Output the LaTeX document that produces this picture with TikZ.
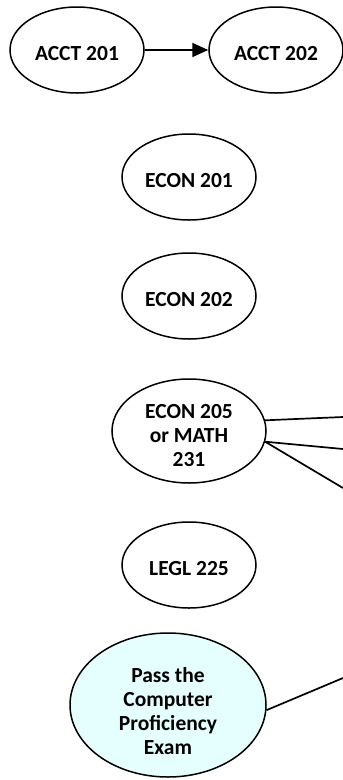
\documentclass[tikz,border=0pt]{standalone}
\usepackage{fontspec}
\setmainfont{Carlito}
\usetikzlibrary{shapes.geometric,arrows.meta}
\definecolor{examfill}{RGB}{229,255,255}

\begin{document}
\begin{tikzpicture}[x=1pt,y=-1pt,
    course/.style={ellipse,draw,line width=1.5pt,inner sep=0pt,align=center,
        font=\fontsize{21.5}{24}\selectfont\bfseries,
        minimum width=134pt,minimum height=86pt},
    oneline/.style={text height=20pt,text depth=0pt},
    link/.style={line width=1.7pt}]
    \useasboundingbox (0,0) rectangle (343,780);
        \node[course,oneline] (acct201) at (77,50) {ACCT 201};
        \node[course,oneline] (acct202) at (276,50) {ACCT 202};
        \node[course,oneline] (econ201) at (189,177) {ECON 201};
        \node[course,oneline] (econ202) at (189,296) {ECON 202};
        \node[course,minimum width=154pt,minimum height=104pt] (econ205) at (189,431) {\rule{0pt}{23pt}ECON 205\\or MATH\\231};
        \node[course,oneline] (legl225) at (189,565) {LEGL 225};
        \node[course,fill=examfill,minimum width=196pt,minimum height=144pt] (exam) at (168,705) {\rule{0pt}{27pt}Pass the\\Computer\\Proficiency\\Exam};
        % lines leaving the page on the right
        \coordinate (outa) at (343,417);
        \coordinate (outb) at (343,449);
        \coordinate (outc) at (343,488);
        \coordinate (outd) at (343,678);
        \draw[link,-{Triangle[length=16pt,width=14pt]}] (acct201) -- (acct202);
        \draw[link] (econ205.8) -- (outa);
        \draw[link] (econ205.-8) -- (outb);
        \draw[link] (econ205.-8) -- (outc);
        \draw[link] (exam.-3) -- (outd);
\end{tikzpicture}
\end{document}
